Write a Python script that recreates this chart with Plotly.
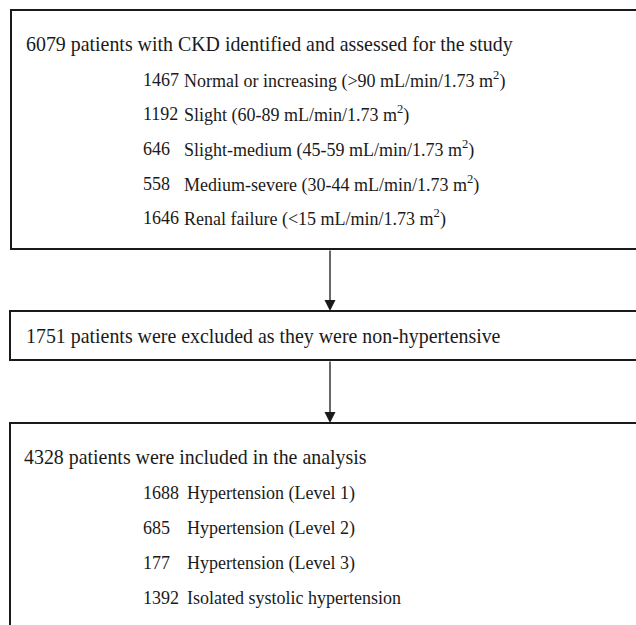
import plotly.graph_objects as go

# ---- data ----
top_title = "6079 patients with CKD identified and assessed for the study"
ckd_counts = ["1467", "1192", "646", "558", "1646"]
ckd_labels = [
    "Normal or increasing (>90 mL/min/1.73 m<sup>2</sup>)",
    "Slight (60-89 mL/min/1.73 m<sup>2</sup>)",
    "Slight-medium (45-59 mL/min/1.73 m<sup>2</sup>)",
    "Medium-severe (30-44 mL/min/1.73 m<sup>2</sup>)",
    "Renal failure (<15 mL/min/1.73 m<sup>2</sup>)",
]
excl_text = "1751 patients were excluded as they were non-hypertensive"
incl_title = "4328 patients were included in the analysis"
ht_counts = ["1688", "685", "177", "1392"]
ht_labels = [
    "Hypertension (Level 1)",
    "Hypertension (Level 2)",
    "Hypertension (Level 3)",
    "Isolated systolic hypertension",
]

W, H = 636, 625
FONT = "Liberation Serif, Times New Roman, serif"
TITLE_SIZE = 19.9
NUM_SIZE = 18
ITEM_SIZE = 18
INK = "#1a1a1a"

fig = go.Figure()
fig.add_trace(go.Scatter(x=[100], y=[100], mode="markers", marker=dict(opacity=0),
                         hoverinfo="skip", showlegend=False))

# boxes: right edge (and bottom of the last one) run off the canvas
boxes = [(11, 10, 249), (10, 311, 360), (10, 423, None)]
for x0, y0, y1 in boxes:
    if y1 is None:
        path = f"M 700 {y0} L {x0} {y0} L {x0} 700"
    else:
        path = f"M 700 {y0} L {x0} {y0} L {x0} {y1} L 700 {y1}"
    fig.add_shape(type="path", xref="x", yref="y", path=path,
                  line=dict(color=INK, width=2), fillcolor="rgba(0,0,0,0)")

ann = []
def txt(x, y, s, size):
    ann.append(dict(x=x, y=y, xref="x", yref="y", text=s, showarrow=False,
                    xanchor="left", yanchor="middle",
                    font=dict(family=FONT, size=size, color=INK)))

txt(24, 44, top_title, TITLE_SIZE)
ckd_y = [80, 114, 149, 184, 218]
for c, l, y in zip(ckd_counts, ckd_labels, ckd_y):
    txt(141, y, c, NUM_SIZE)
    txt(182, y, l, ITEM_SIZE)

txt(24, 336, excl_text, TITLE_SIZE)

txt(22, 457, incl_title, TITLE_SIZE)
ht_y = [493, 528, 563, 598]
for c, l, y in zip(ht_counts, ht_labels, ht_y):
    txt(141, y, c, NUM_SIZE)
    txt(185, y, l, ITEM_SIZE)

# arrows
for ys, ye in [(249, 311), (360, 423)]:
    ann.append(dict(x=330, y=ye, ax=330, ay=ys, xref="x", yref="y", axref="x", ayref="y",
                    text="", showarrow=True, arrowhead=2, arrowsize=1.7, arrowwidth=1.3,
                    arrowcolor=INK, standoff=0, startstandoff=0))

fig.update_layout(
    width=W, height=H, margin=dict(l=0, r=0, t=0, b=0),
    paper_bgcolor="white", plot_bgcolor="white",
    xaxis=dict(range=[0, W], visible=False, fixedrange=True),
    yaxis=dict(range=[H, 0], visible=False, fixedrange=True),
    annotations=ann, showlegend=False,
)
fig.write_html("out.html", config={"displayModeBar": False},
               post_script="document.body.style.margin='0';document.body.style.overflow='hidden';")
